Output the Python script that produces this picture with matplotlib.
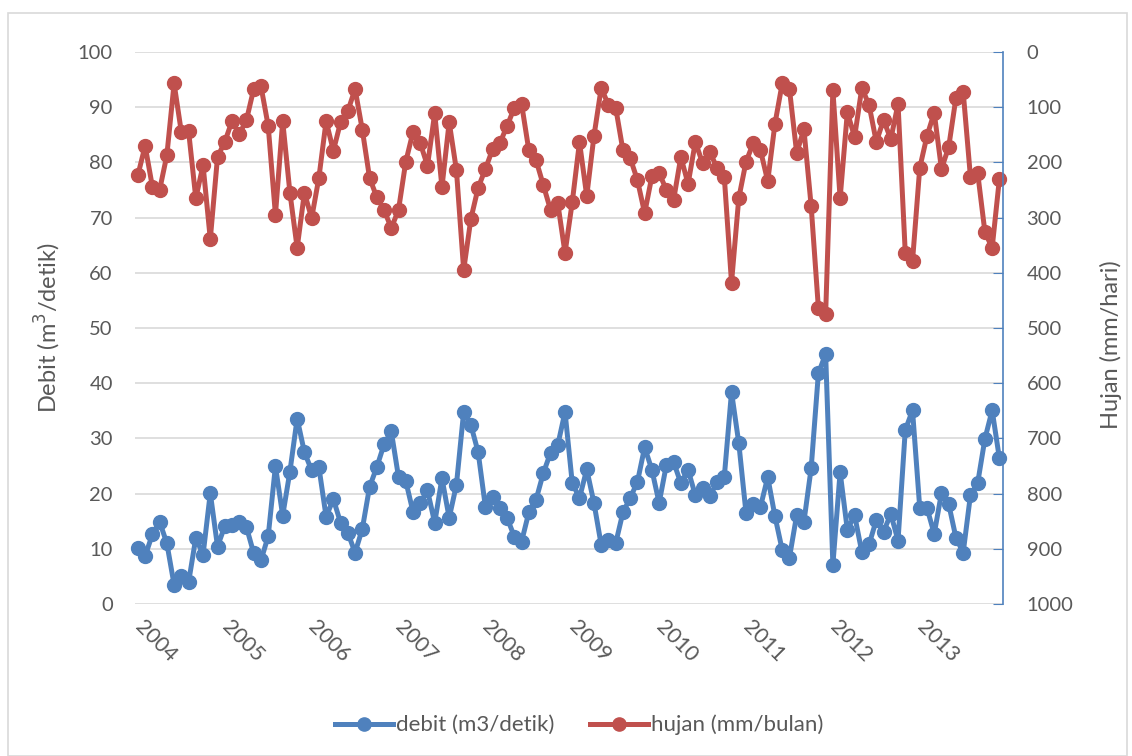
import numpy as np
import matplotlib
matplotlib.use('Agg')
import matplotlib.pyplot as plt
from matplotlib.patches import Rectangle

# monthly data, Jan 2004 - Dec 2013
years = ['2004', '2005', '2006', '2007', '2008', '2009', '2010', '2011', '2012', '2013']

debit = [10.1, 8.7, 12.6, 14.9, 11.0, 3.5, 5.1, 3.9, 12.0, 8.9, 20.1, 10.4,
         14.1, 14.4, 14.8, 13.9, 9.2, 7.9, 12.3, 25.0, 16.0, 24.0, 33.6, 27.5,
         24.2, 24.8, 15.8, 19.0, 14.7, 12.9, 9.3, 13.6, 21.2, 24.8, 28.9, 31.3,
         23.0, 22.3, 16.7, 18.3, 20.6, 14.7, 22.8, 15.6, 21.6, 34.8, 32.4, 27.5,
         17.6, 19.3, 17.4, 15.6, 12.2, 11.3, 16.6, 18.9, 23.7, 27.4, 28.8, 34.8,
         21.9, 19.2, 24.4, 18.3, 10.7, 11.6, 11.0, 16.6, 19.2, 22.1, 28.4, 24.3,
         18.3, 25.2, 25.7, 21.9, 24.3, 19.7, 21.0, 19.5, 22.1, 23.0, 38.4, 29.2,
         16.5, 18.2, 17.6, 23.0, 15.9, 9.8, 8.4, 16.1, 14.9, 24.6, 41.8, 45.3,
         7.1, 23.9, 13.4, 16.1, 9.4, 10.8, 15.2, 13.1, 16.3, 11.5, 31.5, 35.1,
         17.4, 17.4, 12.7, 20.1, 18.1, 12.0, 9.3, 19.7, 21.9, 29.9, 35.1, 26.4]

hujan = [223, 170, 244, 250, 187, 57, 145, 143, 265, 205, 339, 190,
         163, 125, 149, 123, 67, 62, 134, 295, 125, 255, 355, 255,
         301, 228, 125, 179, 127, 107, 67, 141, 228, 263, 286, 319,
         286, 199, 145, 165, 206, 111, 245, 127, 214, 395, 302, 246,
         212, 176, 165, 134, 101, 94, 178, 196, 241, 286, 274, 364,
         272, 163, 261, 152, 65, 96, 101, 178, 192, 232, 292, 225,
         219, 250, 268, 190, 239, 163, 201, 181, 210, 226, 418, 265,
         199, 165, 178, 234, 130, 57, 67, 183, 140, 279, 464, 475,
         69, 265, 109, 154, 65, 96, 163, 123, 158, 94, 364, 379,
         210, 152, 110, 212, 172, 83, 72, 226, 219, 326, 355, 230]

blue = '#4F81BD'
red = '#C0504D'
txt = '#595959'
grid = '#D9D9D9'

plt.rcParams['font.family'] = ['Lato', 'DejaVu Sans']

fig = plt.figure(figsize=(11.32, 7.56), dpi=100)
fig.patches.append(Rectangle((8/1132, 0), 1119/1132, 1-13/756, transform=fig.transFigure,
                             fill=False, edgecolor='#D9D9D9', linewidth=1.2))

ax = fig.add_axes([135/1132, 1-604/756, 868/1132, 552/756])
ax2 = ax.twinx()

x = np.arange(len(debit))
l1, = ax.plot(x, debit, color=blue, lw=3.6, marker='o', ms=10, clip_on=False,
              label='debit (m3/detik)')
l2, = ax2.plot(x, hujan, color=red, lw=3.6, marker='o', ms=10, clip_on=False,
               label='hujan (mm/bulan)')

ax.set_ylim(0, 100)
ax.set_yticks(range(0, 101, 10))
ax2.set_ylim(1000, 0)
ax2.set_yticks(range(0, 1001, 100))
ax.set_xlim(-0.4, 119.5)

ax.set_xticks(np.arange(len(years)) * 12)
ax.set_xticklabels(years, rotation=-45, rotation_mode='anchor', ha='left', va='center')
ax.tick_params(axis='x', length=0, pad=14, labelsize=15.5, labelcolor=txt)
ax.tick_params(axis='y', length=0, pad=16, labelsize=14.5, labelcolor=txt)
ax2.tick_params(axis='y', direction='in', length=7, color=blue, pad=17,
                labelsize=14.5, labelcolor=txt)

ax.grid(axis='y', color=grid, lw=1.2)
ax.set_axisbelow(True)
for s in ['top', 'left', 'bottom', 'right']:
    ax.spines[s].set_visible(False)
for s in ['top', 'left', 'bottom']:
    ax2.spines[s].set_visible(False)
ax2.spines['right'].set_color(blue)
ax2.spines['right'].set_linewidth(1.2)

ax.set_ylabel('Debit (m$^3$/detik)', fontsize=17, color=txt)
ax.yaxis.set_label_coords(-72/868, 0.5)
ax2.set_ylabel('Hujan (mm/hari)', fontsize=17, color=txt)
ax2.yaxis.set_label_coords(1 + 97/868, 0.47)

fig.legend([l1, l2], [l1.get_label(), l2.get_label()], loc='center',
           bbox_to_anchor=(579/1132, 1-725/756), ncol=2, frameon=False,
           fontsize=16, labelcolor=txt, handlelength=2.6, columnspacing=1.6,
           handletextpad=0.15, markerscale=0.95)

fig.savefig('out.png', dpi=100)
